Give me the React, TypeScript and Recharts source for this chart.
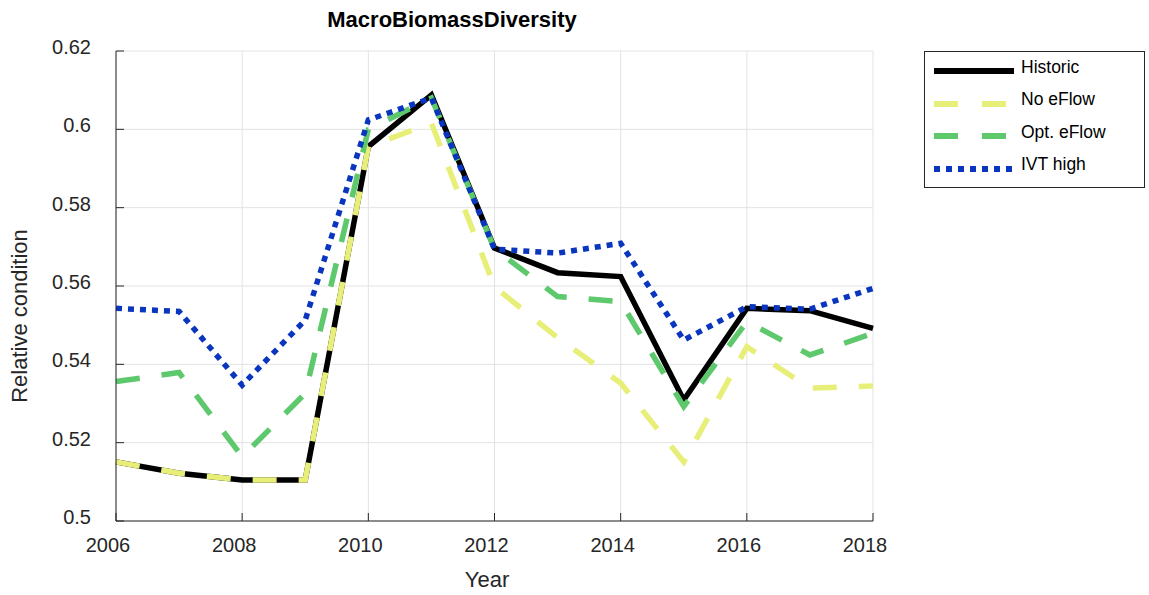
import { LineChart, Line, XAxis, YAxis, CartesianGrid } from "recharts";

const years = [2006, 2007, 2008, 2009, 2010, 2011, 2012, 2013, 2014, 2015, 2016, 2017, 2018];
const historic = [0.5151, 0.5122, 0.5105, 0.5105, 0.5956, 0.6088, 0.5697, 0.5634, 0.5624, 0.5309, 0.5543, 0.5537, 0.5492];
const noEflow = [0.5151, 0.5122, 0.5105, 0.5105, 0.5956, 0.6016, 0.5598, 0.5468, 0.5352, 0.5151, 0.5445, 0.5339, 0.5345];
const optEflow = [0.5356, 0.5379, 0.5164, 0.5326, 0.6, 0.608, 0.5695, 0.5573, 0.556, 0.5292, 0.5509, 0.5424, 0.5479];
const ivtHigh = [0.5543, 0.5535, 0.5347, 0.5513, 0.6024, 0.608, 0.5694, 0.5684, 0.5709, 0.5462, 0.5547, 0.5541, 0.5594];

const xTicks = [2006, 2008, 2010, 2012, 2014, 2016, 2018];
const yTicks = [0.5, 0.52, 0.54, 0.56, 0.58, 0.6, 0.62];

const series = [
  { key: "historic", name: "Historic", color: "#000000", dash: undefined as string | undefined },
  { key: "noEflow", name: "No eFlow", color: "#e8ef78", dash: "24 22" },
  { key: "optEflow", name: "Opt. eFlow", color: "#5ec86c", dash: "24 22" },
  { key: "ivtHigh", name: "IVT high", color: "#0a36bf", dash: "6 6" },
];

const data = years.map((year, i) => ({
  year,
  historic: historic[i],
  noEflow: noEflow[i],
  optEflow: optEflow[i],
  ivtHigh: ivtHigh[i],
}));

const font = "'Liberation Sans', Arial, Helvetica, sans-serif";
const tickStyle = { fill: "#262626", fontSize: 20, fontFamily: font };

export default function App() {
  return (
    <div
      style={{
        position: "absolute",
        left: 0,
        top: 0,
        width: 1149,
        height: 595,
        background: "#fff",
        fontFamily: font,
        color: "#000",
      }}
    >
      <LineChart
        width={1149}
        height={595}
        data={data}
        margin={{ top: 51, right: 276, bottom: 44, left: 56 }}
      >
        <CartesianGrid stroke="#e3e3e3" strokeWidth={1} />
        <XAxis
          dataKey="year"
          type="number"
          domain={[2006, 2018]}
          ticks={xTicks}
          height={30}
          stroke="#262626"
          tickSize={-8}
          tickMargin={25}
          tick={{ ...tickStyle, dx: -8 }}
          interval={0}
        />
        <YAxis
          type="number"
          domain={[0.5, 0.62]}
          ticks={yTicks}
          width={60}
          stroke="#262626"
          tickSize={-8}
          tickMargin={33}
          tick={{ ...tickStyle, dy: -4 }}
          interval={0}
          tickFormatter={(v: number) => String(Number(v.toFixed(2)))}
        />
        {series.map((s) => (
          <Line
            key={s.key}
            dataKey={s.key}
            type="linear"
            stroke={s.color}
            strokeWidth={5.5}
            strokeDasharray={s.dash}
            strokeLinecap="butt"
            dot={false}
            activeDot={false}
            isAnimationActive={false}
          />
        ))}
      </LineChart>

      <div
        style={{
          position: "absolute",
          left: 452,
          top: 7,
          transform: "translateX(-50%)",
          fontSize: 22,
          fontWeight: "bold",
          whiteSpace: "nowrap",
        }}
      >
        MacroBiomassDiversity
      </div>

      <div
        style={{
          position: "absolute",
          left: 487,
          top: 567,
          transform: "translateX(-50%)",
          fontSize: 22,
          color: "#262626",
          whiteSpace: "nowrap",
        }}
      >
        Year
      </div>

      <div
        style={{
          position: "absolute",
          left: 20,
          top: 316,
          transform: "translate(-50%, -50%) rotate(-90deg)",
          fontSize: 22,
          color: "#262626",
          whiteSpace: "nowrap",
        }}
      >
        Relative condition
      </div>

      <div
        style={{
          position: "absolute",
          left: 924,
          top: 51,
          width: 221,
          height: 137,
          border: "1px solid #262626",
          boxSizing: "border-box",
          background: "#fff",
        }}
      >
        {series.map((s, i) => (
          <div
            key={s.key}
            style={{
              position: "absolute",
              left: 8,
              top: 8 + i * 32.5,
              display: "flex",
              alignItems: "center",
              height: 22,
            }}
          >
            <svg width={82} height={12} style={{ display: "block" }}>
              <line
                x1={1}
                y1={6}
                x2={81}
                y2={6}
                stroke={s.color}
                strokeWidth={6}
                strokeDasharray={s.key === "ivtHigh" ? "6 6" : s.dash ? "24 24" : undefined}
              />
            </svg>
            <span style={{ marginLeft: 6, fontSize: 17.5, color: "#000", position: "relative", top: -4 }}>
              {s.name}
            </span>
          </div>
        ))}
      </div>
    </div>
  );
}
